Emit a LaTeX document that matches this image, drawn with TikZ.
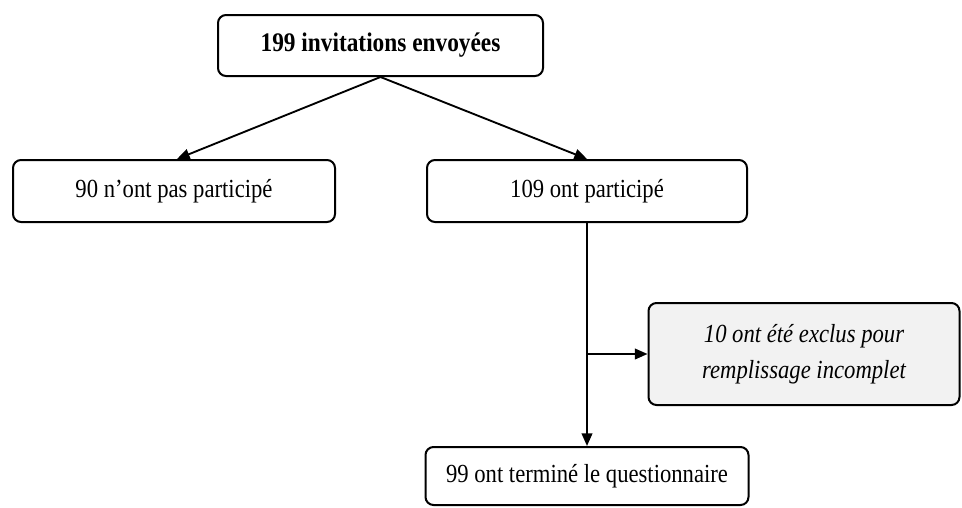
\documentclass[tikz,border=0pt]{standalone}
\usepackage{fontspec}
\setmainfont{Liberation Serif}
\usetikzlibrary{arrows.meta}
\definecolor{boxgray}{HTML}{F2F2F2}
\newcommand{\tallText}[1]{\scalebox{1}[1.15]{#1}}
\begin{document}
\begin{tikzpicture}[x=0.75pt,y=-0.75pt,
  flowbox/.style={draw=black, line width=1.5pt, rounded corners=6pt, fill=white,
    inner sep=0pt, align=center, font=\fontsize{17pt}{26pt}\selectfont},
  flowarrow/.style={line width=1.4pt, -{Triangle[length=9.5pt,width=8pt]}},
  flowline/.style={line width=1.4pt}]
\useasboundingbox (0,0) rectangle (962,507);
\node[flowbox, minimum width=325*0.75pt, minimum height=61*0.75pt, font=\fontsize{17.5pt}{26pt}\selectfont\bfseries]
  (top) at (380.5,45.5) {\tallText{199 invitations envoyées}};
\node[flowbox, minimum width=322*0.75pt, minimum height=62*0.75pt] (left) at (174,191) {\tallText{90 n’ont pas participé}};
\node[flowbox, minimum width=320*0.75pt, minimum height=62*0.75pt] (right) at (587,191) {\tallText{109 ont participé}};
\node[flowbox, fill=boxgray, minimum width=311*0.75pt, minimum height=102*0.75pt,
  font=\fontsize{17pt}{27pt}\selectfont\itshape] (excl) at (804,354) {\tallText{10 ont été exclus pour}\\\tallText{remplissage incomplet}};
\node[flowbox, minimum width=323*0.75pt, minimum height=58*0.75pt] (bottom) at (587,476) {\tallText{99 ont terminé le questionnaire}};
\draw[flowarrow] (top.south) -- ([xshift=3*0.75pt]left.north);
\draw[flowarrow] (top.south) -- (right.north);
\draw[flowarrow] (right.south) -- (bottom.north);
\coordinate (branch) at (right.south |- excl.west);
\draw[flowarrow] (branch) -- (excl.west);
\end{tikzpicture}
\end{document}
